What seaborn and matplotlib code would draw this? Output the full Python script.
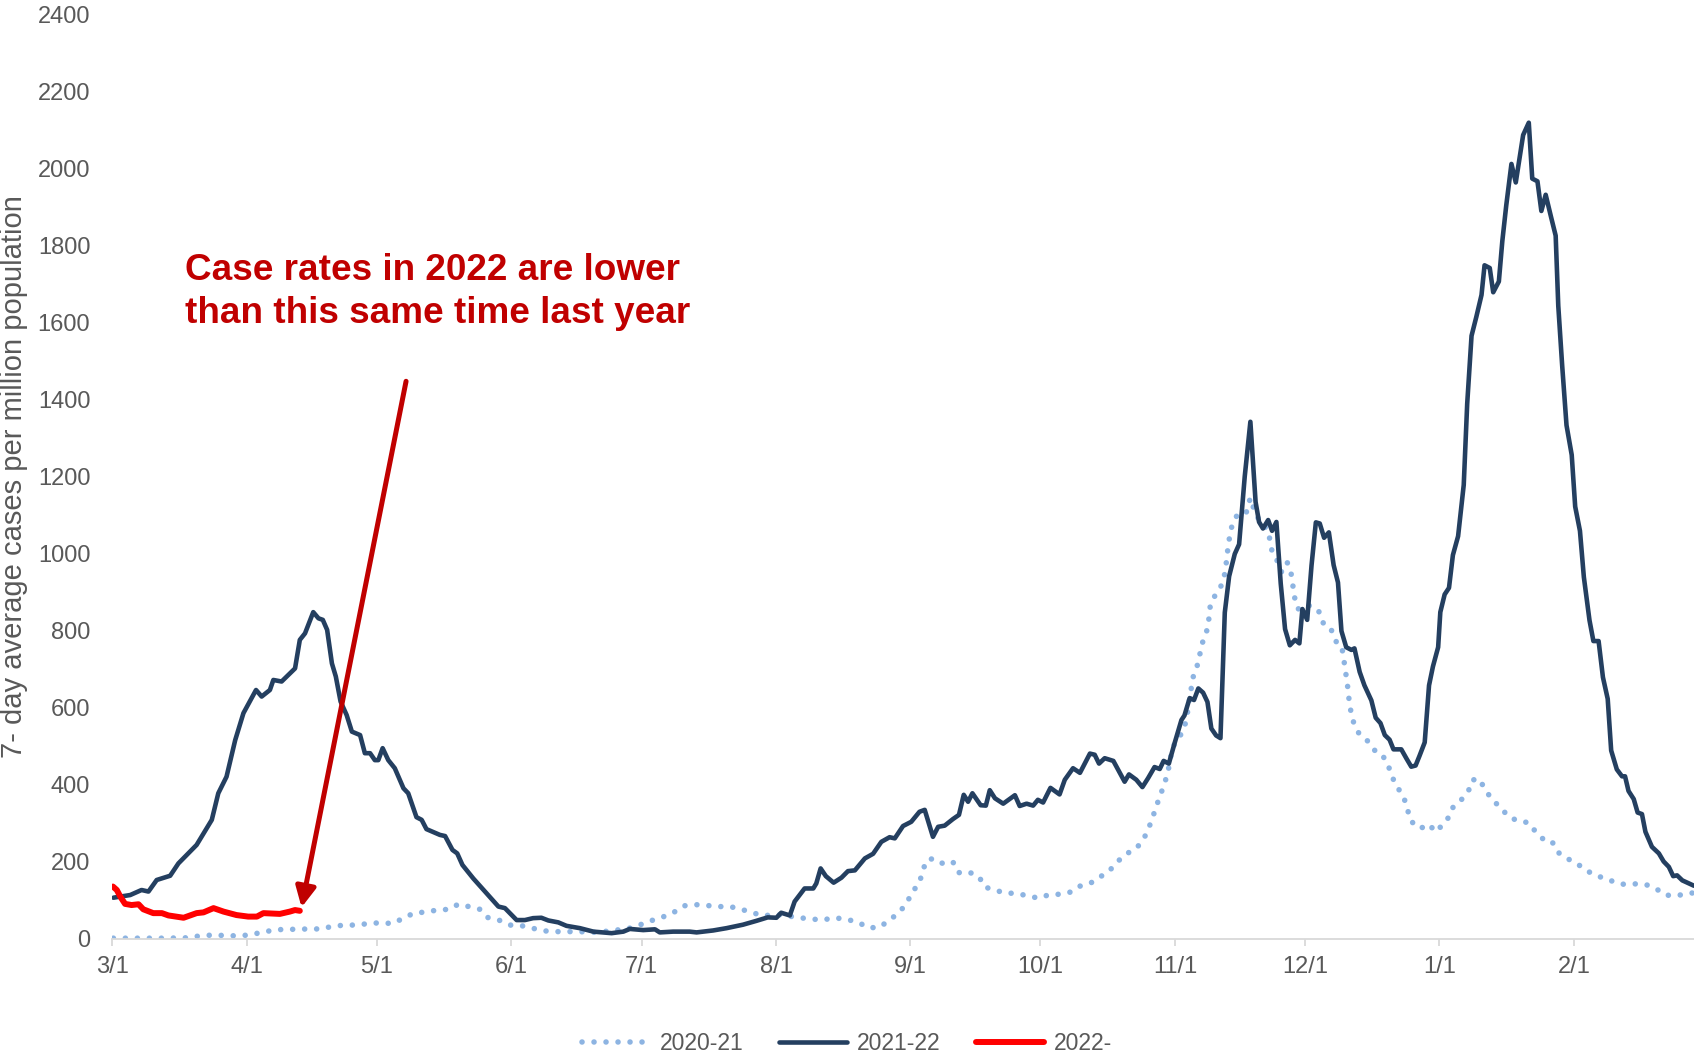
import numpy as np
import pandas as pd
import seaborn as sns
import matplotlib
matplotlib.use("Agg")
import matplotlib.pyplot as plt
from matplotlib.lines import Line2D

# days since 3/1 and 7-day average cases per million
days_2020 = [0.2, 6, 11.7, 17.1, 20.2, 22.9, 25.6, 28.6, 31.3, 34, 36.7, 39.4, 42.5, 45.2, 47.9,
             50.5, 53.4, 56.3, 59, 61.7, 64.6, 67.1, 69.5, 72.3, 74.9, 77.7, 79.7, 82.2, 84.7,
             86.4, 89.1, 91.7, 94.1, 96.8, 99.5, 102.2, 105, 107.8, 110.5, 113.2, 116.1, 118.7,
             121.5, 124.1, 126.7, 129.3, 131.8, 134.5, 137, 139.5, 142.4, 145, 147.6, 150.2,
             152.9, 155.6, 158.4, 161.1, 163.7, 166.4, 169.3, 172, 174.3, 176.8, 179.1, 181.2,
             183.1, 184.3, 186, 186.8, 187.6, 189.3, 191.6, 193.8, 195.1, 197.4, 199.8, 201.2,
             203.1, 205.4, 208.1, 210.8, 213.4, 216.1, 218.4, 221.1, 223.1, 225.7, 227.9, 229.9,
             231.7, 233.8, 235.9, 237.6, 238.8, 239.8, 240.7, 241.7, 242.6, 243.4, 244.4, 245.7,
             246.7, 247.6, 248.9, 249.4, 250.4, 250.9, 251.6, 252.6, 252.9, 253.2, 254.5, 255.8,
             256.5, 256.9, 257.2, 257.6, 258.2, 259.3, 261.4, 262.1, 262.6, 263.2, 264.8, 266.2,
             266.9, 267.4, 268.6, 269.6, 270.9, 271.8, 272.2, 272.6, 273.4, 274.9, 276.9, 278.4,
             279.2, 280.7, 281.9, 282.7, 283.6, 284.0, 284.4, 284.8, 285.1, 285.5, 286.2, 287.4,
             289.5, 291.1, 292.5, 294.0, 294.9, 296.0, 297.5, 298.5, 299.1, 300.6, 302.3, 303.7,
             305.0, 306.8, 307.8, 308.9, 310.9, 312.7, 313.5, 315.1, 316.4, 318.0, 320.0, 321.9,
             324.1, 326.5, 328.2, 330.1, 331.9, 333.3, 335.6, 337.9, 340.1, 342.6, 345.3, 348.1,
             350.7, 353.4, 355.9, 358.0, 360.4, 363.0, 364.7]
cases_2020 = [2, 2, 2, 3, 8, 10, 9, 8, 10, 16, 22, 25, 25, 26, 26,
              32, 36, 36, 40, 42, 40, 54, 67, 70, 75, 77, 90, 84, 77,
              56, 49, 36, 35, 28, 21, 19, 19, 19, 17, 19, 23, 26,
              36, 47, 56, 68, 86, 89, 87, 84, 84, 77, 68, 60,
              64, 60, 55, 52, 49, 55, 51, 43, 29, 30, 48, 67,
              91, 120, 144, 173, 203, 209, 195, 200, 172, 174, 162, 134,
              129, 120, 118, 113, 106, 115, 116, 122, 137, 146, 162, 177,
              200, 221, 233, 255, 283, 313, 344, 375, 403, 434, 495, 521,
              535, 566, 660, 691, 716, 748, 779, 807, 839, 870, 896, 919,
              948, 981, 1012, 1043, 1075, 1099, 1104, 1136, 1144, 1114, 1078, 1065,
              1037, 1005, 981, 952, 977, 948, 917, 886, 856, 867, 863, 847,
              820, 811, 781, 755, 750, 721, 689, 658, 626, 595, 562, 534,
              513, 489, 482, 457, 426, 398, 374, 345, 313, 290, 289, 297,
              278, 296, 309, 339, 359, 384, 412, 416, 391, 363, 342, 318,
              306, 302, 278, 257, 254, 225, 208, 194, 176, 163, 152, 142,
              143, 142, 131, 114, 112, 117, 120]

days_2021 = [0.2, 4.1, 6.7, 8.3, 10.2, 13.3, 15.2, 19.4, 22.9, 24.4, 26.3, 28.3, 30.2, 33.1,
             34.4, 36.3, 37.1, 39.0, 42.1, 43.2, 44.4, 46.3, 47.5, 48.5, 49.5, 50.6, 51.5, 52.6,
             54.0, 55.2, 57.1, 58.2, 59.4, 60.5, 61.3, 62.3, 63.6, 65.1, 67.1, 68.2, 70.1, 71.3,
             72.4, 75.5, 76.7, 78.4, 79.5, 80.7, 83.2, 86.3, 89.0, 90.5, 93.2, 95.1, 97.0, 98.9,
             100.5, 102.8, 104.7, 107.8, 110.9, 115.1, 117.8, 119.3, 122.4, 125.1, 126.2, 129.3,
             133.1, 134.7, 138.5, 141.6, 145.4, 148.5, 151.1, 153.1, 154.2, 156.2, 157.3, 159.6,
             161.6, 162.3, 163.3, 164.5, 166.3, 168.1, 169.6, 171.2, 173.5, 175.4, 177.3, 179.2,
             180.4, 182.3, 184.2, 186.1, 187.3, 189.2, 190.4, 191.9, 193.8, 195.2, 196.3, 197.3,
             198.3, 200.2, 201.4, 202.3, 203.5, 205.4, 208.1, 209.2, 210.8, 212.3, 213.4, 214.6,
             216.3, 218.4, 219.6, 221.5, 223.1, 225.4, 226.5, 227.5, 228.8, 230.8, 232.3, 233.4,
             234.4, 236.1, 237.5, 238.8, 240.3, 241.5, 242.4, 243.6, 244.9, 246.5, 247.2, 248.4,
             249.4, 250.4, 251.5, 252.5, 253.4, 254.5, 255.5, 256.5, 257.5, 258.8, 259.8, 261.1,
             262.4, 263.6, 264.4, 265.3, 266.5, 267.4, 268.4, 269.4, 270.4, 271.5, 272.7, 273.7,
             274.4, 275.5, 276.5, 277.5, 278.4, 279.4, 280.5, 281.6, 282.6, 283.4, 284.5, 285.7,
             286.4, 287.6, 288.7, 290.3, 291.3, 292.4, 293.4, 294.5, 295.4, 297.2, 298.4, 299.5,
             300.5, 301.4, 302.6, 303.6, 304.5, 305.7, 306.2, 307.2, 308.2, 309.1, 310.3, 311.6,
             312.4, 313.4, 314.5, 315.7, 316.4, 317.6, 318.4, 319.7, 320.5, 321.4, 322.6, 323.6,
             325.3, 326.6, 327.4, 328.6, 329.5, 330.5, 331.7, 332.8, 333.4, 334.3, 335.3, 336.5,
             337.3, 338.4, 339.3, 340.6, 341.5, 342.7, 343.7, 344.8, 345.6, 346.9, 348.1, 348.8,
             349.6, 350.8, 351.7, 352.7, 353.5, 355.0, 356.6, 357.7, 358.9, 359.9, 360.8, 362.0,
             364.7]
cases_2021 = [107, 114, 127, 123, 153, 164, 196, 244, 309, 378, 421, 516, 586, 646,
              629, 646, 672, 668, 702, 776, 793, 848, 832, 828, 802, 715, 681, 616,
              581, 538, 529, 482, 482, 464, 464, 495, 464, 443, 391, 378, 316, 309,
              285, 270, 267, 231, 222, 192, 157, 118, 84, 80, 49, 49, 54, 55,
              48, 43, 34, 28, 19, 15, 19, 26, 23, 25, 17, 19,
              19, 17, 22, 28, 37, 47, 56, 55, 68, 61, 97, 131,
              131, 144, 183, 163, 146, 159, 176, 178, 209, 221, 252, 264,
              261, 293, 304, 330, 335, 265, 291, 294, 311, 322, 374, 356,
              378, 347, 346, 386, 365, 351, 373, 345, 351, 346, 361, 354,
              392, 375, 413, 443, 431, 481, 478, 455, 469, 462, 431, 408,
              427, 413, 394, 417, 446, 441, 462, 455, 507, 568, 580, 625,
              620, 650, 639, 615, 546, 528, 521, 847, 941, 999, 1024, 1200,
              1342, 1134, 1082, 1065, 1087, 1059, 1082, 922, 804, 762, 776, 767,
              856, 828, 969, 1081, 1078, 1041, 1055, 970, 925, 799, 757, 750,
              754, 693, 658, 619, 574, 560, 529, 517, 492, 492, 468, 447,
              450, 475, 510, 658, 707, 757, 848, 894, 911, 996, 1045, 1178,
              1389, 1565, 1614, 1671, 1748, 1741, 1678, 1706, 1811, 1903, 2011, 1963,
              2086, 2118, 1973, 1966, 1889, 1931, 1875, 1825, 1643, 1488, 1333, 1256,
              1122, 1059, 939, 827, 773, 773, 679, 623, 489, 440, 422, 422,
              384, 363, 328, 324, 278, 239, 222, 201, 187, 163, 165, 152,
              138]

days_2022 = [0.1, 1.0, 1.8, 2.9, 4.4, 6.0, 7.1, 9.4, 11.4, 12.9, 16.4, 19.4, 21.0, 23.3,
             25.6, 28.6, 31.3, 33.3, 34.8, 38.6, 40.9, 42.1, 43.2]
cases_2022 = [136, 127, 110, 91, 88, 90, 77, 67, 67, 61, 55, 67, 69, 80,
              71, 62, 58, 58, 67, 65, 71, 75, 73]

month_days = [0, 31, 61, 92, 122, 153, 184, 214, 245, 275, 306, 337]
month_labels = ['3/1', '4/1', '5/1', '6/1', '7/1', '8/1', '9/1', '10/1', '11/1', '12/1', '1/1', '2/1']

c_2020 = '#8DB4E2'
c_2021 = '#243F60'
c_2022 = '#FF0000'
c_note = '#C00000'
c_text = '#595959'

sns.set_theme(style="white")
plt.rcParams['font.family'] = ['Liberation Sans', 'DejaVu Sans']

fig = plt.figure(figsize=(16.94, 10.55), dpi=100)
ax = fig.add_axes([0.0664, 0.110, 0.9336, 0.8767])

dotted = (0, (0.01, 2.15))
sns.lineplot(x=days_2020, y=cases_2020, ax=ax, color=c_2020, lw=4.0,
             linestyle=dotted, dash_capstyle='round')
sns.lineplot(x=days_2021, y=cases_2021, ax=ax, color=c_2021, lw=3.3)
sns.lineplot(x=days_2022, y=cases_2022, ax=ax, color=c_2022, lw=4.3)

ax.set_xlim(0, 364.7)
ax.set_ylim(0, 2400)
ax.set_yticks(range(0, 2401, 200))
ax.set_xticks(month_days)
ax.set_xticklabels(month_labels)

for s in ['top', 'right', 'left']:
    ax.spines[s].set_visible(False)
ax.spines['bottom'].set_color('#D9D9D9')
ax.spines['bottom'].set_linewidth(1.3)
ax.tick_params(axis='x', length=5, width=1.3, color='#D9D9D9', pad=7,
               labelsize=17, labelcolor=c_text, bottom=True)
ax.tick_params(axis='y', length=0, pad=16, labelsize=17, labelcolor=c_text)
ax.grid(False)

ax.set_ylabel('7- day average cases per million population', fontsize=21, color=c_text)
ax.yaxis.set_label_coords(-0.0535, 0.5)
ax.set_xlabel('')

# callout
fig.text(0.1095, 0.6938, 'Case rates in 2022 are lower\nthan this same time last year',
         fontsize=26.6, fontweight='bold', color=c_note, ha='left', va='baseline',
         linespacing=1.28)
ax.annotate('', xy=(43.6, 82), xytext=(67.7, 1447),
            arrowprops=dict(arrowstyle='-|>', color=c_note, lw=3.6,
                            mutation_scale=30, shrinkA=0, shrinkB=0))

handles = [
    Line2D([], [], color=c_2020, lw=4.0, linestyle=dotted, dash_capstyle='round'),
    Line2D([], [], color=c_2021, lw=3.3),
    Line2D([], [], color=c_2022, lw=4.3),
]
fig.legend(handles, ['2020-21', '2021-22', '2022-'], loc='center',
           bbox_to_anchor=(0.5, 0.0105), ncol=3, frameon=False, fontsize=16.5,
           handlelength=2.95, handletextpad=0.42, columnspacing=1.57,
           labelcolor=c_text)

fig.savefig('out.png', dpi=100)
